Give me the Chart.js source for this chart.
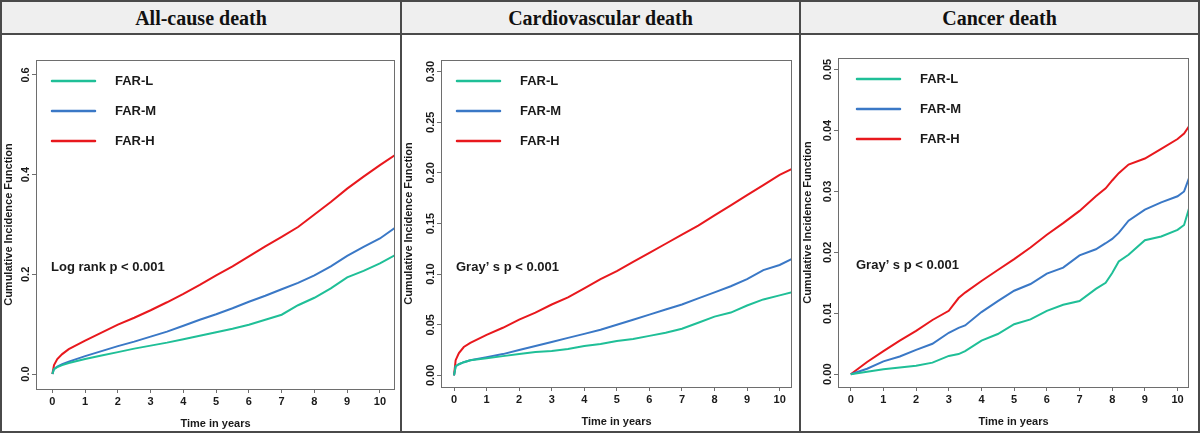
<!DOCTYPE html>
<html>
<head>
<meta charset="utf-8">
<script src="https://cdn.jsdelivr.net/npm/chart.js@4.4.1/dist/chart.umd.min.js"></script>
<style>
  html, body { margin: 0; padding: 0; background: #fff; }
  body { width: 1200px; height: 435px; position: relative; overflow: hidden; }
  .panel { position: absolute; top: 0; height: 433px; border: 2px solid #4a4a4a; box-sizing: border-box; background: #fff; }
  .panel-title { height: 33px; box-sizing: border-box; border-bottom: 2px solid #4a4a4a; background: #efefef;
    font: bold 20px "Liberation Serif", "Times New Roman", serif; color: #111; text-align: center; line-height: 32px; }
  .panel canvas { position: absolute; left: 0; top: 33px; }
</style>
</head>
<body>
<div class="panel" style="left:0;width:402px"><div class="panel-title">All-cause death</div><canvas id="allCauseChart" width="398" height="396"></canvas></div>
<div class="panel" style="left:400px;width:401px"><div class="panel-title">Cardiovascular death</div><canvas id="cvChart" width="397" height="396"></canvas></div>
<div class="panel" style="left:799px;width:401px"><div class="panel-title">Cancer death</div><canvas id="cancerChart" width="397" height="396"></canvas></div>
<script>
  const groupLabels = ["FAR-L", "FAR-M", "FAR-H"];
  const groupColors = ["#1fbf97", "#3a78c6", "#e8181d"];
  const xTicks = [0, 1, 2, 3, 4, 5, 6, 7, 8, 9, 10];

  // all-cause death
  const allCauseYears = [0, 0.05, 0.15, 0.3, 0.5, 1, 1.5, 2, 2.5, 3, 3.5, 4, 4.5, 5, 5.5, 6, 6.5, 7, 7.5, 8, 8.5, 9, 9.5, 10, 10.45];
  const allCauseL = [0, 0.010, 0.014, 0.018, 0.022, 0.030, 0.037, 0.044, 0.051, 0.057, 0.063, 0.070, 0.077, 0.084, 0.091, 0.099, 0.109, 0.119, 0.138, 0.153, 0.172, 0.194, 0.207, 0.222, 0.238];
  const allCauseM = [0, 0.010, 0.015, 0.020, 0.025, 0.036, 0.046, 0.056, 0.065, 0.075, 0.085, 0.097, 0.109, 0.120, 0.132, 0.145, 0.157, 0.170, 0.183, 0.198, 0.216, 0.237, 0.255, 0.272, 0.293];
  const allCauseH = [0, 0.018, 0.030, 0.040, 0.050, 0.067, 0.083, 0.099, 0.113, 0.128, 0.144, 0.161, 0.179, 0.198, 0.216, 0.236, 0.256, 0.275, 0.295, 0.320, 0.345, 0.372, 0.396, 0.419, 0.439];
  const allCauseYTicks = [0, 0.2, 0.4, 0.6];
  const allCauseYLabels = ["0.0", "0.2", "0.4", "0.6"];

  // cardiovascular death
  const cvYears = [0, 0.05, 0.15, 0.3, 0.5, 1, 1.5, 2, 2.5, 3, 3.5, 4, 4.5, 5, 5.5, 6, 6.5, 7, 7.5, 8, 8.5, 9, 9.5, 10, 10.38];
  const cvL = [0, 0.009, 0.011, 0.013, 0.015, 0.017, 0.019, 0.021, 0.023, 0.024, 0.026, 0.029, 0.031, 0.034, 0.036, 0.039, 0.042, 0.046, 0.052, 0.058, 0.062, 0.069, 0.075, 0.079, 0.082];
  const cvM = [0, 0.009, 0.011, 0.013, 0.015, 0.018, 0.021, 0.025, 0.029, 0.033, 0.037, 0.041, 0.045, 0.050, 0.055, 0.060, 0.065, 0.070, 0.076, 0.082, 0.088, 0.095, 0.104, 0.109, 0.115];
  const cvH = [0, 0.015, 0.022, 0.028, 0.032, 0.040, 0.047, 0.055, 0.062, 0.070, 0.077, 0.086, 0.095, 0.103, 0.112, 0.121, 0.130, 0.139, 0.148, 0.158, 0.168, 0.178, 0.188, 0.198, 0.204];
  const cvYTicks = [0, 0.05, 0.1, 0.15, 0.2, 0.25, 0.3];
  const cvYLabels = ["0.00", "0.05", "0.10", "0.15", "0.20", "0.25", "0.30"];

  // cancer death
  const cancerYears = [0, 0.5, 1, 1.5, 2, 2.5, 3, 3.3, 3.5, 4, 4.5, 5, 5.5, 6, 6.5, 7, 7.5, 7.8, 8, 8.2, 8.5, 9, 9.5, 10, 10.2, 10.35];
  const cancerL = [0, 0.0004, 0.0008, 0.0011, 0.0014, 0.0019, 0.0030, 0.0033, 0.0038, 0.0055, 0.0066, 0.0082, 0.0090, 0.0104, 0.0114, 0.0120, 0.0140, 0.0150, 0.0166, 0.0185, 0.0196, 0.0220, 0.0226, 0.0237, 0.0245, 0.0272];
  const cancerM = [0, 0.0009, 0.0021, 0.0029, 0.0040, 0.0050, 0.0068, 0.0076, 0.0080, 0.0102, 0.0120, 0.0137, 0.0148, 0.0165, 0.0175, 0.0195, 0.0205, 0.0215, 0.0222, 0.0232, 0.0252, 0.0270, 0.0282, 0.0292, 0.0300, 0.0322];
  const cancerH = [0, 0.0020, 0.0038, 0.0055, 0.0071, 0.0089, 0.0104, 0.0125, 0.0134, 0.0153, 0.0171, 0.0189, 0.0208, 0.0229, 0.0248, 0.0268, 0.0292, 0.0305, 0.0318, 0.0330, 0.0344, 0.0354, 0.0370, 0.0386, 0.0395, 0.0407];
  const cancerYTicks = [0, 0.01, 0.02, 0.03, 0.04, 0.05];
  const cancerYLabels = ["0.00", "0.01", "0.02", "0.03", "0.04", "0.05"];

  const SANS = '"Liberation Sans", Arial, sans-serif';

  function toPoints(years, values) {
    return years.map((x, i) => ({ x, y: values[i] }));
  }

  // box, rotated y labels, axis titles, legend and test note
  function makeDecor(panel) {
    return {
      id: "decor",
      afterDraw(chart) {
        const { ctx, chartArea: a, scales } = chart;
        ctx.save();
        ctx.strokeStyle = "#6e6e6e";
        ctx.lineWidth = 1;
        ctx.strokeRect(a.left + 0.5, a.top + 0.5, a.right - a.left - 1, a.bottom - a.top);

        ctx.fillStyle = "#1a1a1a";
        ctx.font = `bold 11px ${SANS}`;
        ctx.textAlign = "center";
        ctx.textBaseline = "middle";
        scales.y.ticks.forEach((tick, i) => {
          ctx.save();
          ctx.translate(a.left - 10, scales.y.getPixelForValue(tick.value));
          ctx.rotate(-Math.PI / 2);
          ctx.fillText(panel.yLabels[i], 0, 0);
          ctx.restore();
        });

        ctx.fillText("Time in years", (a.left + a.right) / 2, a.bottom + 35);
        ctx.save();
        ctx.translate(7, (a.top + a.bottom) / 2);
        ctx.rotate(-Math.PI / 2);
        ctx.fillText("Cumulative Incidence Function", 0, 0);
        ctx.restore();

        ctx.font = `bold 13px ${SANS}`;
        ctx.textAlign = "left";
        ctx.lineCap = "round";
        chart.data.datasets.forEach((ds, i) => {
          const y = a.top + 21 + i * 30;
          ctx.strokeStyle = ds.borderColor;
          ctx.lineWidth = 2.5;
          ctx.beginPath();
          ctx.moveTo(a.left + panel.legendX, y);
          ctx.lineTo(a.left + panel.legendX + 43, y);
          ctx.stroke();
          ctx.fillText(ds.label, a.left + panel.legendX + 63, y);
        });

        ctx.fillText(panel.note, a.left + panel.noteX, a.top + 207);
        ctx.restore();
      },
    };
  }

  function drawPanel(canvasId, panel) {
    const datasets = panel.series.map((values, i) => ({
      label: groupLabels[i],
      data: toPoints(panel.years, values),
      borderColor: groupColors[i],
      borderWidth: 2,
      pointRadius: 0,
      tension: 0,
    }));
    return new Chart(document.getElementById(canvasId), {
      type: "line",
      data: { datasets },
      options: {
        responsive: false,
        animation: false,
        layout: { padding: { top: panel.top, right: panel.right, left: 0, bottom: 0 } },
        plugins: { legend: { display: false }, tooltip: { enabled: false } },
        scales: {
          x: {
            type: "linear",
            min: panel.xMin,
            max: panel.xMax,
            afterBuildTicks: (scale) => { scale.ticks = xTicks.map((value) => ({ value })); },
            afterFit: (scale) => { scale.height = panel.xHeight; },
            border: { display: false },
            grid: { drawOnChartArea: false, drawTicks: true, tickLength: 4, color: "#6e6e6e" },
            ticks: {
              padding: 2,
              color: "#1a1a1a",
              font: { family: SANS, size: 11, weight: "bold" },
              maxRotation: 0,
              callback: (value) => String(value),
            },
          },
          y: {
            type: "linear",
            min: panel.yMin,
            max: panel.yMax,
            afterBuildTicks: (scale) => { scale.ticks = panel.yTicks.map((value) => ({ value })); },
            afterFit: (scale) => { scale.width = panel.yWidth; },
            border: { display: false },
            grid: { drawOnChartArea: false, drawTicks: true, tickLength: 4, color: "#6e6e6e" },
            ticks: { display: false },
          },
        },
      },
      plugins: [makeDecor(panel)],
    });
  }

  drawPanel("allCauseChart", {
    years: allCauseYears,
    series: [allCauseL, allCauseM, allCauseH],
    yTicks: allCauseYTicks,
    yLabels: allCauseYLabels,
    xMin: -0.5, xMax: 10.46, yMin: -0.03, yMax: 0.63,
    top: 25, right: 5, yWidth: 34, xHeight: 42,
    legendX: 16, noteX: 15, note: "Log rank p < 0.001",
  });

  drawPanel("cvChart", {
    years: cvYears,
    series: [cvL, cvM, cvH],
    yTicks: cvYTicks,
    yLabels: cvYLabels,
    xMin: -0.4, xMax: 10.38, yMin: -0.0115, yMax: 0.3115,
    top: 25, right: 7, yWidth: 39, xHeight: 44,
    legendX: 16, noteX: 15, note: "Gray\u2019 s p < 0.001",
  });

  drawPanel("cancerChart", {
    years: cancerYears,
    series: [cancerL, cancerM, cancerH],
    yTicks: cancerYTicks,
    yLabels: cancerYLabels,
    xMin: -0.39, xMax: 10.35, yMin: -0.0021, yMax: 0.0519,
    top: 23, right: 9, yWidth: 37, xHeight: 44,
    legendX: 19, noteX: 18, note: "Gray\u2019 s p < 0.001",
  });
</script>
</body>
</html>
